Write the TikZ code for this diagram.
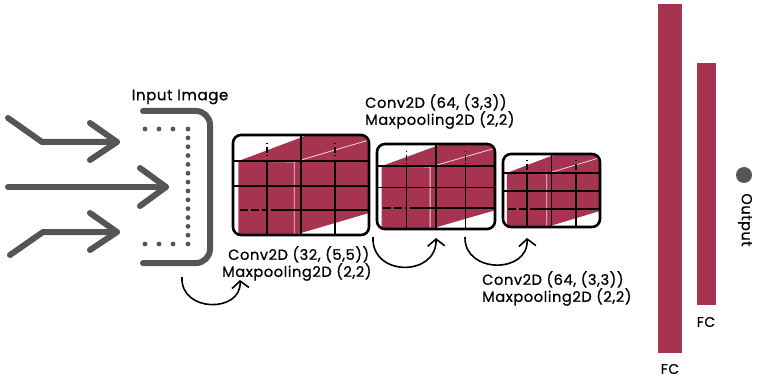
\documentclass[tikz,border=0pt]{standalone}
\usepackage{fontspec}
\setmainfont{Poppins}[FakeBold=0.8, LetterSpace=4]
\usetikzlibrary{arrows.meta}
\definecolor{fmred}{RGB}{166,52,80}
\definecolor{arrowgray}{RGB}{85,85,85}
\tikzset{
  bigarrow/.style={draw=arrowgray, line width=6pt, line cap=round, line join=round},
  curvearrow/.style={draw=black, line width=1.6pt, -{Straight Barb[length=7pt,width=17pt]}},
  lbl/.style={align=left, font=\fontsize{14.6}{17}\selectfont, inner sep=0pt},
  fclbl/.style={font=\fontsize{14}{16}\selectfont, inner sep=0pt}
}
\begin{document}
\begin{tikzpicture}[x=1pt,y=-1pt]
  \useasboundingbox (0,0) rectangle (757,382);

  % incoming arrows
  \draw[bigarrow] (8,118) -- (42,142) -- (117,142);
  \draw[bigarrow] (90,123) -- (117,142) -- (90,160);
  \draw[bigarrow] (8,187) -- (166,187);
  \draw[bigarrow] (140,168) -- (166,187) -- (140,206);
  \draw[bigarrow] (10,255) -- (43,232) -- (117,232);
  \draw[bigarrow] (90,213) -- (117,232) -- (90,250);

  % input image bracket
  \draw[bigarrow, rounded corners=14pt] (143,111) -- (210,111) -- (210,263) -- (143,263);
  \foreach \dx in {145,159,173} {
    \fill[arrowgray] (\dx,129) circle (2.4);
    \fill[arrowgray] (\dx,244) circle (2.4);
  }
  \foreach \dy in {0,...,13}
    \fill[arrowgray] (188,129+\dy*8.85) circle (2.4);
  \node[font=\fontsize{15}{17}\selectfont] (input) at (180,97) {Input Image};

  % feature maps
  \foreach \bx/\by/\bw/\bh/\bname in {233/135/136/100/conva, 377/144/118/85/convb, 503/154/97/73/convc} {
    \begin{scope}[shift={(\bx,\by)}, x={(\bw pt,0)}, y={(0,-\bh pt)}]
      \begin{scope}
        \clip[rounded corners=8pt] (0,0) rectangle (1,1);
        \fill[fmred] (0.04,0.26) -- (0.55,0) -- (1,0) -- (1,0.78) -- (0.45,1) -- (0.04,1) -- cycle;
        \draw[white, opacity=0.8, line width=0.8pt] (0.04,0.26) -- (0.45,0.27) -- (0.45,1);
        \draw[white, opacity=0.8, line width=0.8pt] (0.45,0.27) -- (1,0.05);
      \end{scope}
      \draw[line width=1.6pt] (0.5,0) -- (0.5,1);
      \draw[line width=1.6pt] (0.25,0.26) -- (0.25,1) (0.75,0.26) -- (0.75,1);
      \draw[line width=1.6pt, dash pattern=on 1.5pt off 2.5pt on 6pt off 2pt] (0.25,0.08) -- (0.25,0.24) (0.75,0.08) -- (0.75,0.24);
      \draw[line width=1.6pt] (0,0.26) -- (1,0.26) (0,0.51) -- (1,0.51) (0.28,0.75) -- (1,0.75);
      \draw[line width=1.6pt, dash pattern=on 8pt off 3pt] (0.05,0.75) -- (0.24,0.75);
      \draw[line width=2.6pt, rounded corners=8pt] (0,0) rectangle (1,1);
      \coordinate (\bname) at (0.5,1);
    \end{scope}
  }

  % layer arrows
  \draw[curvearrow] (182,277) .. controls (180,313) and (242,313) .. (240,280);
  \draw[curvearrow] (373,237) .. controls (371,277) and (437,277) .. (436,238);
  \draw[curvearrow] (465,237) .. controls (464,274) and (529,274) .. (527,238);

  % layer labels
  \node[lbl, anchor=north west] (l1) at (222,246) {\hspace*{6pt}Conv2D (32, (5,5))\\Maxpooling2D (2,2)};
  \node[lbl, anchor=north west] (l2) at (365,94) {Conv2D (64, (3,3))\\Maxpooling2D (2,2)};
  \node[lbl, anchor=north west] (l3) at (482,271) {Conv2D (64, (3,3))\\Maxpooling2D (2,2)};

  % dense layers
  \fill[fmred] (658,4) rectangle (682,353);
  \fill[fmred] (697,63) rectangle (716,305);
  \node[fclbl] (fca) at (670,369) {FC};
  \node[fclbl] (fcb) at (706,322) {FC};

  % output
  \fill[arrowgray] (744,175) circle (8);
  \node[font=\fontsize{14.5}{16}\selectfont, rotate=-90] (out) at (745,220) {Output};
\end{tikzpicture}
\end{document}
